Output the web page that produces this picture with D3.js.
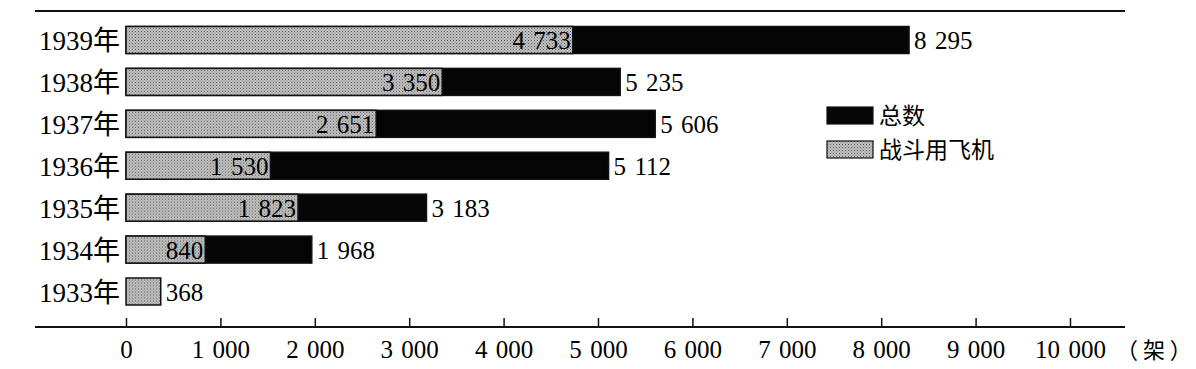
<!DOCTYPE html>
<html>
<head>
<meta charset="utf-8">
<script src="https://cdn.jsdelivr.net/npm/d3@7"></script>
<style>
  body { margin: 0; background: #fff; }
  text { font-family: "Liberation Serif", "Noto Sans CJK SC", serif; fill: #000; }
  .cjk { font-family: "Noto Sans CJK SC", sans-serif; }
</style>
</head>
<body>
<svg id="chart" width="1196" height="369"></svg>
<script>
// data
var years = ['1939', '1938', '1937', '1936', '1935', '1934', '1933'];
var totals = [8295, 5235, 5606, 5112, 3183, 1968, null];
var fighters = [4733, 3350, 2651, 1530, 1823, 840, 368];
var xTicks = [0, 1000, 2000, 3000, 4000, 5000, 6000, 7000, 8000, 9000, 10000];
var legendLabels = ['总数', '战斗用飞机'];

var svg = d3.select('#chart');
var fmt = d3.formatLocale({ decimal: '.', thousands: '\u2004', grouping: [3], currency: ['', ''] }).format(',');

var defs = svg.append('defs');
var pat = defs.append('pattern')
    .attr('id', 'dots')
    .attr('width', 3).attr('height', 3)
    .attr('patternUnits', 'userSpaceOnUse');
pat.append('rect').attr('width', 3).attr('height', 3).attr('fill', '#c2c2c2');
pat.append('rect').attr('x', 0).attr('y', 0).attr('width', 1).attr('height', 1).attr('fill', '#5a5a5a');
pat.append('rect').attr('x', 1.5).attr('y', 1.5).attr('width', 1).attr('height', 1).attr('fill', '#7a7a7a');

var rows = years.map(function (y, i) {
  return { year: y, total: totals[i], fighter: fighters[i] };
});

var x = d3.scaleLinear().domain([0, 10000]).range([126, 1070]);
var y = d3.scalePoint().domain(years).range([40, 291.5]);
var barH = 27;

// top rule
svg.append('line')
    .attr('x1', 35).attr('x2', 1125)
    .attr('y1', 11).attr('y2', 11)
    .attr('stroke', '#111').attr('stroke-width', 2);

// axis
var axisY = 327;
var axis = d3.axisBottom(x).tickValues(xTicks).tickSize(0).tickFormat(fmt);
var axisG = svg.append('g').attr('transform', 'translate(0,' + axisY + ')').call(axis);
axisG.select('.domain').remove();
axisG.selectAll('text')
    .attr('y', 31).attr('dy', 0)
    .style('font-size', '25px')
    .attr('fill', '#000');
axisG.selectAll('.tick').append('line')
    .attr('y1', 0).attr('y2', -9)
    .attr('stroke', '#111').attr('stroke-width', 1.5);
svg.append('line')
    .attr('x1', 35).attr('x2', 1125)
    .attr('y1', axisY).attr('y2', axisY)
    .attr('stroke', '#111').attr('stroke-width', 2);
svg.append('text')
    .attr('class', 'cjk')
    .attr('x', 1116).attr('y', axisY + 31)
    .style('font-size', '22px')
    .text('（ 架 ）');

var g = svg.append('g');
var row = g.selectAll('g.row').data(rows).enter().append('g')
    .attr('class', 'row')
    .attr('transform', function (d) { return 'translate(0,' + y(d.year) + ')'; });

row.append('text')
    .attr('x', 120).attr('y', 10)
    .attr('text-anchor', 'end')
    .style('font-size', '27px')
    .text(function (d) { return d.year + '年'; });

row.filter(function (d) { return d.total != null; }).append('rect')
    .attr('x', x(0))
    .attr('y', -barH / 2)
    .attr('width', function (d) { return x(d.total) - x(0); })
    .attr('height', barH)
    .attr('fill', '#050505')
    .attr('stroke', '#111').attr('stroke-width', 1.5);

row.append('rect')
    .attr('x', x(0))
    .attr('y', -barH / 2)
    .attr('width', function (d) { return x(d.fighter) - x(0); })
    .attr('height', barH)
    .attr('fill', 'url(#dots)')
    .attr('stroke', '#111').attr('stroke-width', 1.5);

// fighter value inside gray bar
row.filter(function (d) { return d.total != null; }).append('text')
    .attr('x', function (d) { return x(d.fighter) - 2; })
    .attr('y', 9)
    .attr('text-anchor', 'end')
    .style('font-size', '25px')
    .text(function (d) { return fmt(d.fighter); });

// outside labels
row.append('text')
    .attr('x', function (d) { return x(d.total != null ? d.total : d.fighter) + 5; })
    .attr('y', 9)
    .style('font-size', '25px')
    .text(function (d) { return fmt(d.total != null ? d.total : d.fighter); });

// legend
var legend = svg.append('g').attr('transform', 'translate(827,107)');
var li = legend.selectAll('g').data(legendLabels).enter().append('g')
    .attr('transform', function (d, i) { return 'translate(0,' + (i * 34) + ')'; });
li.append('rect')
    .attr('width', 46).attr('height', 17)
    .attr('fill', function (d, i) { return i === 0 ? '#050505' : 'url(#dots)'; })
    .attr('stroke', '#111').attr('stroke-width', 1.2);
li.append('text')
    .attr('class', 'cjk')
    .attr('x', 52).attr('y', 17)
    .style('font-size', '23px')
    .text(function (d) { return d; });
</script>
</body>
</html>
